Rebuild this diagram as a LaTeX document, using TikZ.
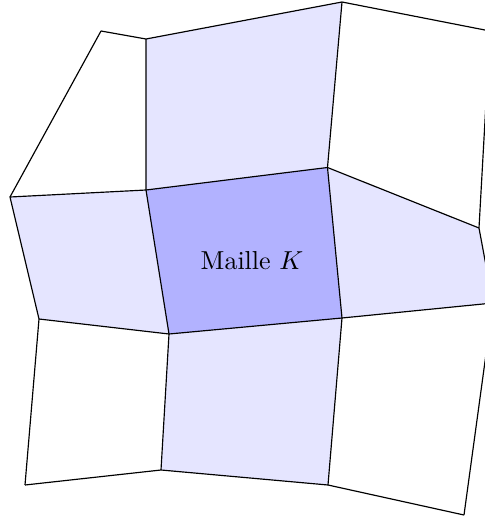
\documentclass[tikz,border=0pt]{standalone}
\begin{document}
\begin{tikzpicture}[x=0.385pt,y=-0.385pt,
  cellline/.style={draw=black,line width=0.45pt,line join=round},
  lightcell/.style={fill=blue!10},
  darkcell/.style={fill=blue!30}]
\useasboundingbox (0,0) rectangle (485,517);
\clip (0,0) rectangle (485,517);
% vertices
\coordinate (A) at (101,31);
\coordinate (B) at (146,39);
\coordinate (C) at (342,2);
\coordinate (D) at (490,31);
\coordinate (E) at (10,197);
\coordinate (F) at (146,190);
\coordinate (G) at (327.5,167.5);
\coordinate (H) at (479,228);
\coordinate (I) at (39,319);
\coordinate (J) at (169,334);
\coordinate (K) at (342,318);
\coordinate (L) at (493,303);
\coordinate (M) at (25,485);
\coordinate (N) at (161,470);
\coordinate (O) at (328,485);
\coordinate (P) at (464,515);
% fills
\fill[lightcell] (B) -- (C) -- (G) -- (F) -- cycle;
\fill[lightcell] (E) -- (F) -- (J) -- (I) -- cycle;
\fill[lightcell] (G) -- (H) -- (L) -- (K) -- cycle;
\fill[lightcell] (J) -- (K) -- (O) -- (N) -- cycle;
\fill[darkcell] (F) -- (G) -- (K) -- (J) -- cycle;
% grid lines
\draw[cellline] (A) -- (B) -- (C) -- (D);
\draw[cellline] (E) -- (F) -- (G) -- (H);
\draw[cellline] (I) -- (J) -- (K) -- (L);
\draw[cellline] (M) -- (N) -- (O) -- (P);
\draw[cellline] (A) -- (E) -- (I) -- (M);
\draw[cellline] (B) -- (F) -- (J) -- (N);
\draw[cellline] (C) -- (G) -- (K) -- (O);
\draw[cellline] (D) -- (H) -- (L) -- (P);
\node (label) at (252,261) {Maille $K$};
\end{tikzpicture}
\end{document}
